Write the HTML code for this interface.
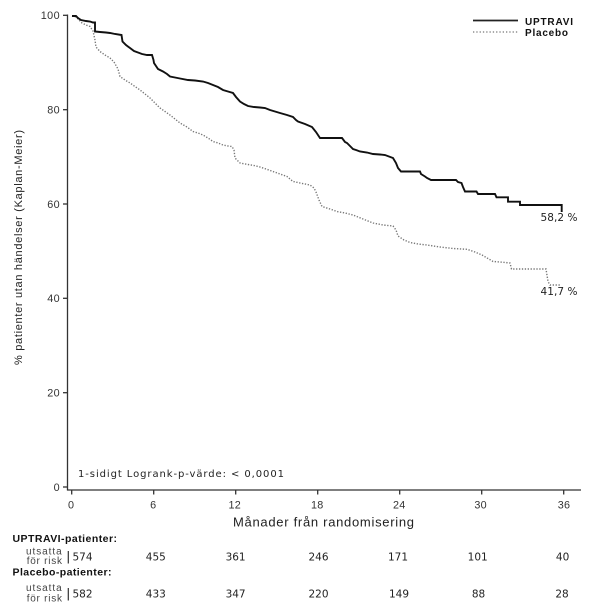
<!DOCTYPE html>
<html><head><meta charset="utf-8"><style>
html,body{margin:0;padding:0;background:#fff;}
svg{display:block;}
</style></head><body>
<svg width="609" height="611" viewBox="0 0 609 611" xmlns="http://www.w3.org/2000/svg">
<rect width="609" height="611" fill="#fff"/>
<!-- axes -->
<g stroke="#333" stroke-width="1.3" fill="none">
<line x1="67.5" y1="14.5" x2="67.5" y2="490.5"/>
<line x1="67" y1="490" x2="581" y2="490"/>
<line x1="63" y1="15.3" x2="67.5" y2="15.3"/>
<line x1="63" y1="109.7" x2="67.5" y2="109.7"/>
<line x1="63" y1="204" x2="67.5" y2="204"/>
<line x1="63" y1="298.3" x2="67.5" y2="298.3"/>
<line x1="63" y1="392.7" x2="67.5" y2="392.7"/>
<line x1="63" y1="487" x2="67.5" y2="487"/>
<line x1="71.7" y1="490" x2="71.7" y2="494.5"/>
<line x1="153.7" y1="490" x2="153.7" y2="494.5"/>
<line x1="235.7" y1="490" x2="235.7" y2="494.5"/>
<line x1="317.7" y1="490" x2="317.7" y2="494.5"/>
<line x1="399.7" y1="490" x2="399.7" y2="494.5"/>
<line x1="481.7" y1="490" x2="481.7" y2="494.5"/>
<line x1="563.7" y1="490" x2="563.7" y2="494.5"/>
</g>
<g font-family="Liberation Sans, sans-serif" font-size="10.8" fill="#333" text-anchor="end" letter-spacing="0.4">
<text x="60" y="19.2">100</text>
<text x="60" y="113.5">80</text>
<text x="60" y="207.8">60</text>
<text x="60" y="302.1">40</text>
<text x="60" y="396.5">20</text>
<text x="60" y="490.8">0</text>
</g>
<g font-family="Liberation Sans, sans-serif" font-size="10.8" fill="#333" text-anchor="middle" letter-spacing="0.3">
<text x="71.2" y="508.5">0</text>
<text x="153.3" y="508.5">6</text>
<text x="234.8" y="508.5">12</text>
<text x="317.3" y="508.5">18</text>
<text x="399.3" y="508.5">24</text>
<text x="480.7" y="508.5">30</text>
<text x="564" y="508.5">36</text>
</g>
<text x="233" y="526.5" font-family="Liberation Sans, sans-serif" font-size="13" fill="#222" textLength="181" lengthAdjust="spacing">Månader från randomisering</text>
<text transform="translate(22,365) rotate(-90)" x="0" y="0" font-family="Liberation Sans, sans-serif" font-size="11" fill="#222" textLength="235" lengthAdjust="spacing">% patienter utan händelser (Kaplan-Meier)</text>

<!-- legend -->
<line x1="473" y1="20.5" x2="518" y2="20.5" stroke="#222" stroke-width="1.8"/>
<line x1="473" y1="32" x2="518" y2="32" stroke="#777" stroke-width="1.3" stroke-dasharray="1.3 2"/>
<text x="525" y="25" font-family="Liberation Sans, sans-serif" font-size="10" font-weight="bold" fill="#111" textLength="48" lengthAdjust="spacing">UPTRAVI</text>
<text x="525" y="36" font-family="Liberation Sans, sans-serif" font-size="10" font-weight="bold" fill="#111" textLength="43" lengthAdjust="spacing">Placebo</text>

<!-- curves -->
<polyline fill="none" stroke="#777" stroke-width="1.4" stroke-dasharray="1.3 1.6" points="72,16 76,17 80,21 82,23 86,25 90,26.5 93,31 95,40 96,47 100,51.5 105,55 110,58 114,62 118,69 120,76.5 125,80 130,83 135,86.5 140,90 145,94 150,98 155,103 160,108 165,111.5 170,115 175,119 180,123 187,127 193,131.5 198,133 203,135 208,138 213,141.5 218,143 223,145 228,146 232,146.5 234,150 235,158 238,161 240,163 248,164.5 254,165.5 260,167 266,169 273,171.5 280,174 287,176.5 293,181.5 300,183 310,185 314,188 316,192 319,200 322,206.5 330,209 337,211.5 345,213 353,215 358,217 363,219 368,221 373,223 383,225 393,226 396,230 398,236 404,240 410,242.5 418,244 427,245 440,247 453,248.5 467,249.3 475,252 482,255 488,258.5 493,261.5 500,262 510,263 511.5,269 546,269 548,281.5 550,285 560,285"/>
<polyline fill="none" stroke="#111" stroke-width="1.9" stroke-linejoin="miter" points="72,16 76,16 78,18 81,20 86,21 90,21.5 93,22.5 95,22.5 95,31.5 100,32 106,32.5 110,33 115,34 121.5,35 122.5,41.5 126,45 130,48 134,51 138,52.5 142,54 147,55 152,55 153.5,60 154,63 158,69 163,71.5 167,74 170,76.5 175,77.5 180,78.5 188,80 195,80.5 203,81.5 208,83 213,85 218,87 223,90 228,91.5 233,93 236,97 240,101.5 244,104 248,106 254,107 260,107.5 265,108 270,110 275,111.5 280,113 287,115 293,117 296,120 298,121.5 305,124 312,127 316,132 320,138 342,138 345,142 347,143 350,146 353,149 356,150 360,151.5 367,152.5 373,154 380,154.5 385,155 393,158 396,163 398,168 401,171.5 420,171.5 421,174 425,176.5 427,178 431,180 456,180 458,182 461.5,183 463,187 465,191.5 476.5,191.5 478,194 495,194 496.5,197.3 508,197.3 508,201.7 520,201.7 520,205 561.7,205 561.7,212"/>

<g font-family="DejaVu Sans, Verdana, sans-serif" font-size="10.5" fill="#222">
<text x="540.5" y="221" textLength="37" lengthAdjust="spacing">58,2 %</text>
<text x="540.5" y="295" textLength="37" lengthAdjust="spacing">41,7 %</text>
</g>
<text x="78" y="477" font-family="DejaVu Sans, Verdana, sans-serif" font-size="10" fill="#222" textLength="206" lengthAdjust="spacing">1-sidigt Logrank-p-värde: &lt; 0,0001</text>

<!-- risk table -->
<g font-family="Liberation Sans, sans-serif" font-size="10.5" font-weight="bold" fill="#111">
<text x="12.5" y="542" textLength="104.5" lengthAdjust="spacing">UPTRAVI-patienter:</text>
<text x="12.5" y="575.7" textLength="99" lengthAdjust="spacing">Placebo-patienter:</text>
</g>
<g font-family="Liberation Sans, sans-serif" font-size="10" fill="#444">
<text x="26" y="554.3" textLength="35.7" lengthAdjust="spacing">utsatta</text>
<text x="26.7" y="564" textLength="35.3" lengthAdjust="spacing">för risk</text>
<text x="26" y="591" textLength="35.7" lengthAdjust="spacing">utsatta</text>
<text x="26.7" y="601.5" textLength="35.3" lengthAdjust="spacing">för risk</text>
</g>
<g stroke="#333" stroke-width="1.2">
<line x1="68.3" y1="551" x2="68.3" y2="563.5"/>
<line x1="68.3" y1="588" x2="68.3" y2="600.5"/>
</g>
<g font-family="DejaVu Sans, Verdana, sans-serif" font-size="10.5" fill="#222">
<text x="72.5" y="560.5">574</text>
<text x="72.5" y="597.5">582</text>
</g>
<g font-family="DejaVu Sans, Verdana, sans-serif" font-size="10.5" fill="#222" text-anchor="middle">
<text x="155.8" y="560.5">455</text>
<text x="235.6" y="560.5">361</text>
<text x="318.5" y="560.5">246</text>
<text x="398" y="560.5">171</text>
<text x="477.7" y="560.5">101</text>
<text x="562.6" y="560.5">40</text>
<text x="155.8" y="597.5">433</text>
<text x="235.6" y="597.5">347</text>
<text x="318.5" y="597.5">220</text>
<text x="399" y="597.5">149</text>
<text x="478.5" y="597.5">88</text>
<text x="562" y="597.5">28</text>
</g>
</svg>
</body></html>
